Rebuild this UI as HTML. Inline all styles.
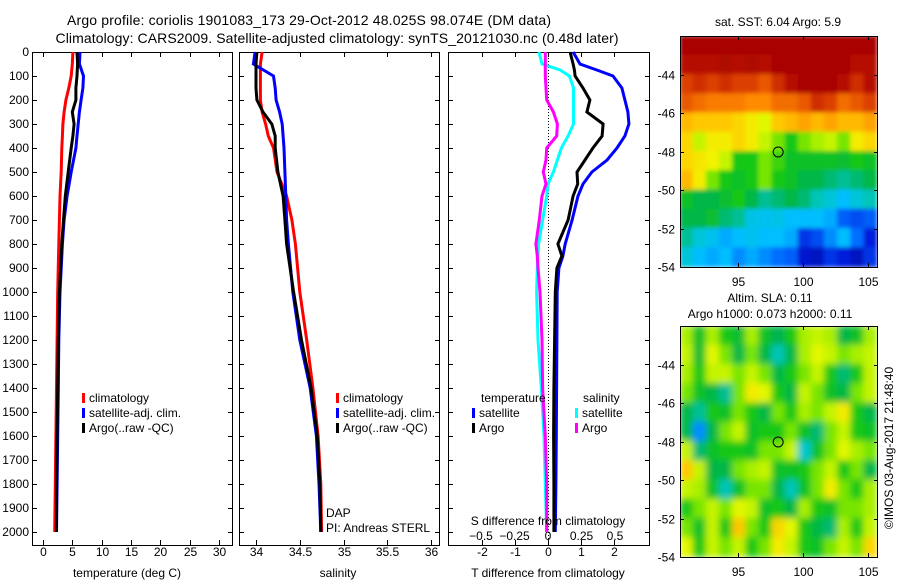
<!DOCTYPE html>
<html><head><meta charset="utf-8"><style>
html,body{margin:0;padding:0;background:#fff;}
svg{display:block;font-family:"Liberation Sans",sans-serif;}
</style></head><body>
<svg id="chart" width="900" height="580" viewBox="0 0 900 580" xmlns="http://www.w3.org/2000/svg">
<defs>
<clipPath id="clipTop"><rect x="680" y="36" width="197" height="231"/></clipPath>
<clipPath id="clipBot"><rect x="680" y="326" width="197" height="231"/></clipPath>
<filter id="blurTop" x="0" y="0" width="1" height="1"><feGaussianBlur stdDeviation="2" edgeMode="duplicate"/></filter>
<filter id="blurBot" x="0" y="0" width="1" height="1"><feGaussianBlur stdDeviation="3.5" edgeMode="duplicate"/></filter>
</defs>
<text x="309" y="25" font-size="14" text-anchor="middle" textLength="484">Argo profile: coriolis 1901083_173 29-Oct-2012 48.025S 98.074E (DM data)</text>
<text x="337" y="43" font-size="14" text-anchor="middle" textLength="563">Climatology: CARS2009. Satellite-adjusted climatology: synTS_20121030.nc (0.48d later)</text>
<g id="layer"></g>
</svg>
<script>
// ---- data ----
const depths = [0,50,100,150,200,250,300,350,400,500,600,700,800,1000,1200,1400,1600,1800,2000];
const tempClim = [5.1,5.0,4.8,4.4,3.9,3.6,3.4,3.3,3.2,3.1,2.9,2.8,2.7,2.5,2.4,2.3,2.2,2.1,2.0];
const tempSat = [6.3,6.2,6.9,6.8,6.5,6.2,6.0,5.8,5.6,4.8,4.1,3.6,3.3,2.9,2.7,2.6,2.5,2.4,2.3];
const tempArgo = [5.8,5.9,5.8,5.6,5.6,5.0,5.3,5.1,4.8,4.3,3.8,3.5,3.2,2.8,2.6,2.5,2.4,2.3,2.3];
const salClim = [34.07,34.05,34.05,34.05,34.05,34.07,34.11,34.14,34.2,34.24,34.35,34.41,34.45,34.5,34.58,34.65,34.71,34.74,34.75];
const salSat = [33.99,33.97,34.2,34.22,34.23,34.27,34.3,34.31,34.32,34.33,34.34,34.35,34.37,34.42,34.5,34.62,34.69,34.72,34.74];
const salArgo = [34.01,34.0,34.0,34.0,34.01,34.08,34.18,34.22,34.22,34.25,34.31,34.33,34.35,34.43,34.52,34.63,34.7,34.73,34.74];
const diffDepths = [0,50,75,100,150,200,250,300,350,400,450,500,550,600,700,800,850,900,1000,1200,1400,1600,1800,2000];
const dTSat = [0.76,0.97,1.48,1.97,2.24,2.33,2.42,2.45,2.33,2.09,1.79,1.33,1.06,0.91,0.73,0.52,0.45,0.33,0.28,0.27,0.26,0.25,0.24,0.22];
const dTArgo = [0.67,0.76,0.8,0.82,1.06,1.27,1.18,1.67,1.64,1.36,1.12,0.88,0.9,0.76,0.61,0.3,0.42,0.27,0.22,0.2,0.18,0.17,0.18,0.18];
const dSSat = [-0.067,-0.045,0.09,0.16,0.19,0.19,0.19,0.19,0.15,0.1,0.07,0.04,0.0,-0.01,-0.04,-0.07,-0.075,-0.08,-0.085,-0.075,-0.05,-0.03,-0.02,-0.01];
const dSArgo = [-0.02,-0.02,-0.02,-0.02,-0.015,-0.01,0.04,0.07,0.065,-0.01,-0.015,-0.035,-0.015,-0.045,-0.065,-0.09,-0.08,-0.075,-0.06,-0.045,-0.04,-0.02,-0.01,-0.01];
const depthTicks = [0,100,200,300,400,500,600,700,800,900,1000,1100,1200,1300,1400,1500,1600,1700,1800,1900,2000];
const tempTicks = [0,5,10,15,20,25,30];
const salTicks = [34,34.5,35,35.5,36];
const dTTicks = [-2,-1,0,1,2];
const dSTicks = [-0.5,-0.25,0,0.25,0.5];
const latTicks = [-44,-46,-48,-50,-52,-54];
const lonTicks = [95,100,105];
const sstGrid = [
[0.98,0.98,0.98,0.98,0.98,0.98,0.98,0.98,0.98,0.98,0.98,0.98,0.98,0.98,0.98],
[0.95,0.95,0.95,0.97,0.95,0.97,0.95,0.98,0.98,0.98,0.98,0.98,0.98,0.95,0.95],
[0.88,0.9,0.88,0.9,0.88,0.88,0.85,0.9,0.95,0.98,0.98,0.98,0.95,0.9,0.95],
[0.85,0.82,0.8,0.8,0.8,0.78,0.78,0.82,0.82,0.85,0.9,0.88,0.82,0.85,0.88],
[0.72,0.7,0.7,0.7,0.68,0.65,0.62,0.7,0.72,0.75,0.72,0.75,0.72,0.72,0.75],
[0.68,0.6,0.65,0.65,0.68,0.65,0.6,0.55,0.5,0.55,0.58,0.6,0.55,0.65,0.68],
[0.68,0.66,0.64,0.6,0.5,0.5,0.55,0.52,0.48,0.48,0.48,0.48,0.47,0.5,0.48],
[0.72,0.65,0.55,0.5,0.48,0.5,0.55,0.5,0.48,0.45,0.45,0.42,0.4,0.42,0.45],
[0.48,0.45,0.45,0.47,0.5,0.45,0.4,0.42,0.45,0.42,0.38,0.35,0.3,0.35,0.38],
[0.45,0.45,0.47,0.42,0.4,0.33,0.32,0.33,0.3,0.3,0.3,0.28,0.2,0.18,0.2],
[0.4,0.35,0.32,0.28,0.3,0.32,0.3,0.3,0.28,0.15,0.18,0.25,0.3,0.22,0.12],
[0.35,0.3,0.28,0.3,0.25,0.28,0.25,0.22,0.2,0.1,0.08,0.15,0.12,0.08,0.15]];
const slaGrid = [
[0.58,0.48,0.58,0.5,0.47,0.58,0.48,0.44,0.5,0.58,0.6,0.58,0.45,0.48,0.58],
[0.6,0.47,0.62,0.55,0.45,0.55,0.45,0.38,0.45,0.58,0.62,0.6,0.55,0.58,0.6],
[0.58,0.5,0.6,0.6,0.55,0.6,0.55,0.45,0.5,0.55,0.6,0.5,0.42,0.5,0.6],
[0.55,0.48,0.45,0.4,0.55,0.65,0.62,0.5,0.45,0.6,0.55,0.48,0.45,0.55,0.6],
[0.45,0.4,0.5,0.48,0.55,0.5,0.45,0.55,0.5,0.58,0.55,0.6,0.65,0.5,0.45],
[0.45,0.25,0.45,0.55,0.6,0.48,0.5,0.5,0.55,0.48,0.42,0.55,0.6,0.5,0.48],
[0.6,0.42,0.48,0.5,0.5,0.48,0.55,0.55,0.6,0.36,0.48,0.55,0.62,0.58,0.55],
[0.7,0.6,0.45,0.45,0.55,0.58,0.6,0.48,0.48,0.5,0.55,0.6,0.5,0.55,0.45],
[0.6,0.58,0.48,0.38,0.48,0.55,0.55,0.45,0.38,0.48,0.55,0.65,0.55,0.5,0.58],
[0.5,0.55,0.6,0.55,0.62,0.6,0.48,0.5,0.45,0.58,0.5,0.48,0.55,0.55,0.58],
[0.55,0.48,0.6,0.5,0.7,0.55,0.5,0.68,0.62,0.5,0.45,0.42,0.58,0.5,0.6],
[0.62,0.5,0.6,0.55,0.6,0.5,0.55,0.65,0.6,0.5,0.48,0.55,0.6,0.55,0.68]];
const floatLon = 98.074, floatLat = -48.025;

const NS='http://www.w3.org/2000/svg';
const layer=document.getElementById('layer');
function el(tag,attrs,parent){const e=document.createElementNS(NS,tag);for(const k in attrs)e.setAttribute(k,attrs[k]);(parent||layer).appendChild(e);return e;}
function txt(x,y,s,size,anchor,parent){const t=el('text',{x:x,y:y,'font-size':size,'text-anchor':anchor||'middle'},parent);t.textContent=s;return t;}

const TOP=52,BOT=545;
const yD=d=>TOP+d*0.24;
const xT=v=>43+v*5.867;
const xS=v=>256+(v-34)*87.5;
const xDT=v=>548+v*33;
const xDS=v=>548+v*134;

function frame(x0,x1,name){
  const r=el('rect',{x:x0+0.5,y:TOP+0.5,width:x1-x0,height:BOT-TOP,fill:'none',stroke:'#000','stroke-width':1});
  
  
  depthTicks.forEach(d=>{
    el('line',{x1:x0,x2:x0+5,y1:yD(d)+0.5,y2:yD(d)+0.5,stroke:'#000'});
    el('line',{x1:x1-4,x2:x1+1,y1:yD(d)+0.5,y2:yD(d)+0.5,stroke:'#000'});
  });
}
function xticks(vals,fx,labelY,fmt,name){
  const g=el('g',{});
  
  
  vals.forEach(v=>{
    const x=Math.round(fx(v))+0.5;
    el('line',{x1:x,x2:x,y1:BOT,y2:BOT-5,stroke:'#000'},g);
    el('line',{x1:x,x2:x,y1:TOP,y2:TOP+5,stroke:'#000'},g);
    if(labelY) txt(x,labelY,fmt?fmt(v):String(v),12,'middle',g);
  });
}
function line(xs,ds,fx,color,w,name){
  const pts=xs.map((v,i)=>fx(v).toFixed(1)+','+yD(ds[i]).toFixed(1)).join(' ');
  const p=el('polyline',{points:pts,fill:'none',stroke:color,'stroke-width':w,'stroke-linejoin':'miter'});
  
  
}
function legend(x,y,color,label,name){
  const g=el('g',{});
  
  
  el('rect',{x:x,y:y-9,width:3,height:10,fill:color},g);
  txt(x+7,y,label,12,'start',g);
}

const dg=el('g',{});


depthTicks.forEach(d=>txt(29,yD(d)+4,String(d),12,'end',dg));

frame(32,232,'temperature-panel');
xticks(tempTicks,xT,556,null,'temperature-x-ticks');
line(tempClim,depths,xT,'#ff0000',3,'temperature-climatology-line');
line(tempSat,depths,xT,'#0000ff',3,'temperature-satellite-line');
line(tempArgo,depths,xT,'#000000',3,'temperature-argo-line');
let t=txt(127,577,'temperature (deg C)',12);


legend(82,402,'#ff0000','climatology','legend-climatology-temp');
legend(82,417,'#0000ff','satellite-adj. clim.','legend-satellite-temp');
legend(82,432,'#000000','Argo(..raw -QC)','legend-argo-temp');

frame(239,439,'salinity-panel');
xticks(salTicks,xS,556,null,'salinity-x-ticks');
line(salClim,depths,xS,'#ff0000',3,'salinity-climatology-line');
line(salSat,depths,xS,'#0000ff',3,'salinity-satellite-line');
line(salArgo,depths,xS,'#000000',3,'salinity-argo-line');
t=txt(338,577,'salinity',12);


legend(336,402,'#ff0000','climatology','legend-climatology-sal');
legend(336,417,'#0000ff','satellite-adj. clim.','legend-satellite-sal');
legend(336,432,'#000000','Argo(..raw -QC)','legend-argo-sal');
t=txt(326,517,'DAP',12,'start');


t=txt(326,532,'PI: Andreas STERL',12,'start');



frame(448,649,'difference-panel');
xticks(dTTicks,xDT,556,null,'t-difference-x-ticks');
const sg=el('g',{});


dSTicks.forEach(v=>txt(xDS(v),540,String(v).replace('-','\u2212'),12,'middle',sg));
el('line',{x1:548.5,x2:548.5,y1:TOP,y2:BOT,stroke:'#000','stroke-dasharray':'1,2'});
line(dSSat,diffDepths,xDS,'#00ffff',3,'s-difference-satellite-line');
line(dSArgo,diffDepths,xDS,'#ff00ff',3,'s-difference-argo-line');
line(dTSat,diffDepths,xDT,'#0000ff',3,'t-difference-satellite-line');
line(dTArgo,diffDepths,xDT,'#000000',3,'t-difference-argo-line');
t=txt(548,525,'S difference from climatology',12);


t=txt(548,577,'T difference from climatology',12);


t=txt(481,402,'temperature',12,'start');


t=txt(583,402,'salinity',12,'start');


legend(472,417,'#0000ff','satellite','legend-t-satellite');
legend(472,432,'#000000','Argo','legend-t-argo');
legend(575,417,'#00ffff','satellite','legend-s-satellite');
legend(575,432,'#ff00ff','Argo','legend-s-argo');

const stops=[[0,[0,0,140]],[0.12,[0,30,220]],[0.22,[0,110,255]],[0.3,[0,190,255]],[0.37,[0,200,200]],[0.44,[0,180,80]],[0.5,[20,200,20]],[0.56,[140,235,0]],[0.63,[240,250,0]],[0.7,[255,200,0]],[0.78,[255,140,0]],[0.86,[230,80,0]],[0.93,[190,20,0]],[1,[160,0,0]]];
function cmap(v){
  for(let i=1;i<stops.length;i++){
    if(v<=stops[i][0]){const a=stops[i-1],b=stops[i],f=(v-a[0])/(b[0]-a[0]);
      const c=a[1].map((x,k)=>Math.round(x+(b[1][k]-x)*f));return 'rgb('+c.join(',')+')';}
  }
  return 'rgb(160,0,0)';
}
const MX0=680,MX1=877,LON0=90.5,LON1=105.7;
const xL=lon=>MX0+(lon-LON0)*(MX1-MX0)/(LON1-LON0);
function drawMap(grid,top,bot,clipId,filt,name){
  const yL=lat=>top+(-42-lat)*(bot-top)/12;
  const outer=el('g',{'clip-path':'url(#'+clipId+')'});
  
  
  const g=el('g',{filter:'url(#'+filt+')'},outer);
  const rows=grid.length,cols=grid[0].length,cw=(MX1-MX0)/cols,rh=(bot-top)/rows;
  grid.forEach((row,r)=>row.forEach((v,c)=>{
    const cell=el('rect',{x:MX0+c*cw-0.5,y:top+r*rh-0.5,width:cw+1,height:rh+1,fill:cmap(v)},g);
    
    
  }));
  el('rect',{x:MX0+0.5,y:top+0.5,width:MX1-MX0,height:bot-top,fill:'none',stroke:'#000'});
  latTicks.forEach(l=>{
    const y=Math.round(yL(l))+0.5;
    el('line',{x1:MX0,x2:MX0+4,y1:y,y2:y,stroke:'#000'});
    el('line',{x1:MX1-3,x2:MX1+1,y1:y,y2:y,stroke:'#000'});
    txt(675,y+4,String(l),12,'end');
  });
  lonTicks.forEach(l=>{
    const x=Math.round(xL(l))+0.5;
    el('line',{x1:x,x2:x,y1:top,y2:top+4,stroke:'#000'});
    el('line',{x1:x,x2:x,y1:bot,y2:bot-4,stroke:'#000'});
    txt(x,bot+19,String(l),12);
  });
  const c=el('circle',{cx:xL(floatLon),cy:yL(floatLat),r:5,fill:'none',stroke:'#000','stroke-width':1});
  
  
}
drawMap(sstGrid,36,267,'clipTop','blurTop','sst-map');
drawMap(slaGrid,326,557,'clipBot','blurBot','sla-map');
t=txt(778,26,'sat. SST: 6.04  Argo: 5.9',12);


t=txt(770,302,'Altim. SLA: 0.11',12);


t=txt(770,318,'Argo h1000: 0.073 h2000: 0.11',12);


t=txt(0,0,'\u00A9IMOS 03-Aug-2017 21:48:40',12);
t.setAttribute('transform','translate(893,448) rotate(-90)');


</script>
</body></html>
